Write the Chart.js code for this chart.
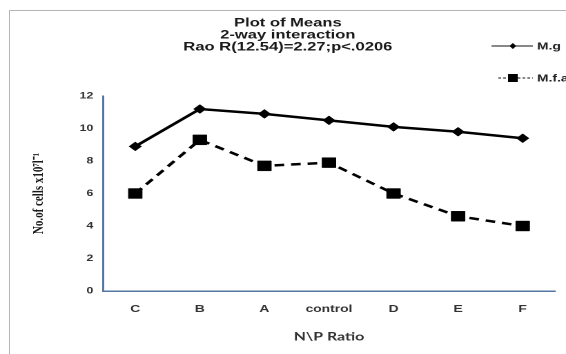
<!DOCTYPE html>
<html>
<head>
<meta charset="utf-8">
<script src="https://cdn.jsdelivr.net/npm/chart.js@4.4.1/dist/chart.umd.min.js"></script>
<style>
  html, body { margin: 0; padding: 0; background: #fff; overflow: hidden; }
  #frame { position: absolute; left: 9px; top: 10px; width: 700px; height: 500px;
           border-top: 1.5px solid #b4b4b4; border-left: 1.5px solid #b4b4b4; }
  #wrap { position: absolute; left: 0; top: 0; width: 410px; height: 354px;
          transform: scaleX(1.3805); transform-origin: 0 0; }
  #c { display: block; width: 410px; height: 354px; }
</style>
</head>
<body>
<div id="frame"></div>
<div id="wrap"><canvas id="c" width="410" height="354"></canvas></div>
<script>
// ---- data ----
const categories = ['C', 'B', 'A', 'control', 'D', 'E', 'F'];
const seriesMg  = [8.9, 11.2, 10.9, 10.5, 10.1, 9.8, 9.4];
const seriesMfa = [6.0, 9.3, 7.7, 7.9, 6.0, 4.6, 4.0];
const yTicks = [0, 2, 4, 6, 8, 10, 12];
const seriesNames = ['M.g', 'M.f.a'];
const titleLines = ['Plot of Means', '2-way interaction', 'Rao R(12.54)=2.27;p<.0206'];
const xTitle = 'N\\P Ratio';
const yTitle = 'No.of cells x10\u2077l\u207B\u00B9';

const AXIS = '#5575a3';

const sideLegend = {
  id: 'sideLegend',
  afterDraw(chart) {
    const ctx = chart.ctx;
    const rows = [46, 78];
    chart.data.datasets.forEach((ds, i) => {
      const y = rows[i];
      ctx.save();
      ctx.strokeStyle = '#111';
      ctx.lineWidth = 1;
      ctx.setLineDash(i === 0 ? [] : [2, 1.5]);
      ctx.beginPath();
      ctx.moveTo(i === 0 ? 356 : 361, y);
      ctx.lineTo(386, y);
      ctx.stroke();
      ctx.setLineDash([]);
      ctx.fillStyle = '#000';
      const mx = 371.5;
      if (i === 0) {
        ctx.beginPath();
        ctx.moveTo(mx, y - 3); ctx.lineTo(mx + 2.5, y); ctx.lineTo(mx, y + 3); ctx.lineTo(mx - 2.5, y);
        ctx.closePath(); ctx.fill();
      } else {
        ctx.fillRect(mx - 3.5, y - 4, 7, 8);
      }
      ctx.font = 'bold 10px "Liberation Sans", Arial, sans-serif';
      ctx.fillStyle = '#222';
      ctx.textBaseline = 'middle';
      ctx.textAlign = 'left';
      ctx.fillText(ds.label, 389, y + 0.5);
      ctx.restore();
    });
  }
};

new Chart(document.getElementById('c'), {
  type: 'line',
  data: {
    labels: categories,
    datasets: [
      { label: seriesNames[0], data: seriesMg, borderColor: '#000', backgroundColor: '#000',
        borderWidth: 2.5, tension: 0, pointStyle: 'rectRot', pointRadius: 4.5,
        pointBorderWidth: 0.5, pointBackgroundColor: '#000', pointBorderColor: '#000' },
      { label: seriesNames[1], data: seriesMfa, borderColor: '#000', backgroundColor: '#000',
        borderWidth: 2.5, borderDash: [7, 5], tension: 0, pointStyle: 'rect', pointRadius: 7,
        pointBorderWidth: 0.5, pointBackgroundColor: '#000', pointBorderColor: '#000' }
    ]
  },
  options: {
    responsive: false,
    maintainAspectRatio: false,
    animation: false,
    devicePixelRatio: 2,
    layout: { padding: { left: 15, right: 8, top: 0, bottom: 0 } },
    plugins: {
      legend: { display: false },
      tooltip: { enabled: false },
      title: {
        display: true,
        text: titleLines,
        color: '#1a1a1a',
        font: { family: '"Liberation Sans", Arial, sans-serif', size: 12, weight: 'bold', lineHeight: 1 },
        padding: { top: 17, bottom: 43 }
      }
    },
    scales: {
      x: {
        offset: true,
        grid: { display: false, drawTicks: false },
        border: { display: true, color: AXIS, width: 1.5 },
        ticks: { color: '#333', padding: 12, maxRotation: 0, autoSkip: false,
                 font: { family: '"Liberation Sans", Arial, sans-serif', size: 10, weight: 'bold' } },
        title: { display: true, text: xTitle, color: '#333',
                 font: { family: 'Lato, "Liberation Sans", sans-serif', size: 11.5, weight: 'bold' },
                 padding: { top: 0, bottom: 10.4 } },
        afterFit: (s) => { s.height = 63; }
      },
      y: {
        min: 0, max: 12,
        afterBuildTicks: (s) => { s.ticks = yTicks.map(v => ({ value: v })); },
        grid: { display: false, drawTicks: false },
        border: { display: true, color: AXIS, width: 1.5 },
        ticks: { color: '#333', padding: 7, autoSkip: false,
                 font: { family: '"Liberation Sans", Arial, sans-serif', size: 9, weight: 'bold' } },
        title: { display: true, text: yTitle, color: '#1a1a1a',
                 font: { family: '"Liberation Serif", "Times New Roman", serif', size: 11, weight: 'bold' },
                 padding: { top: 6.6, bottom: 0 } },
        afterFit: (s) => { s.width = 59.6; }
      }
    }
  },
  plugins: [sideLegend]
});
</script>
</body>
</html>
